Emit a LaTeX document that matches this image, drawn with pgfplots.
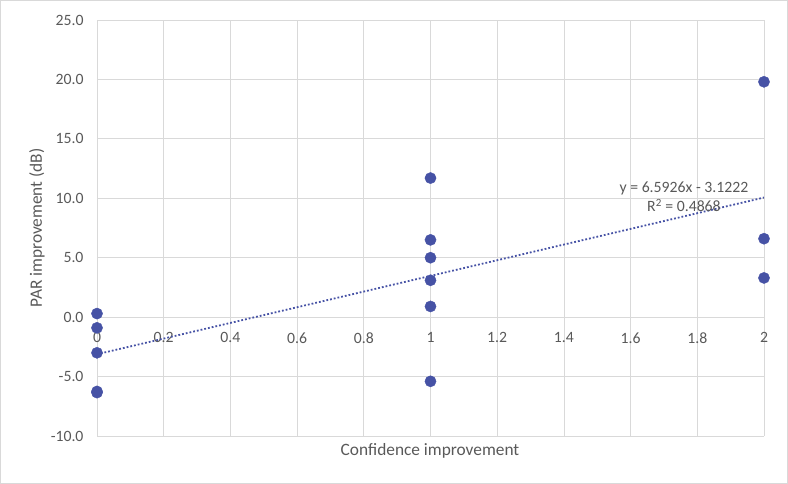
\documentclass[border=0pt]{standalone}
\usepackage{fontspec}
\setmainfont{Carlito}
\usepackage{pgfplots}
\pgfplotsset{compat=1.18}
\definecolor{ptblue}{HTML}{4652A5}
\definecolor{txtgray}{HTML}{595959}
\definecolor{gridgray}{HTML}{D9D9D9}
\begin{document}
\begin{tikzpicture}
\path[use as bounding box] (0,0) rectangle (788bp,484bp);
\draw[gridgray, line width=0.8bp] (0.5bp,0.5bp) rectangle (787.5bp,483.5bp);
\begin{axis}[
  at={(97bp,48bp)}, anchor=south west,
  scale only axis, width=667bp, height=416bp,
  xmin=0, xmax=2, ymin=-10, ymax=25,
  axis x line=middle, axis y line=left,
  axis line style={draw=gridgray, line width=0.8bp, -},
  hide obscured x ticks=false, hide obscured y ticks=false,
  xtick={0,0.2,0.4,0.6,0.8,1,1.2,1.4,1.6,1.8,2},
  xticklabels={0,0.2,0.4,0.6,0.8,1,1.2,1.4,1.6,1.8,2},
  ytick={-10,-5,0,5,10,15,20,25},
  yticklabels={-10.0,-5.0,0.0,5.0,10.0,15.0,20.0,25.0},
  major tick length=0,
  grid=major,
  grid style={draw=gridgray, line width=0.8bp},
  tick label style={font=\fontsize{15.8}{18}\selectfont, text=txtgray},
  xticklabel style={yshift=-12bp},
  yticklabel style={xshift=-10bp},
  clip=false,
]
\addplot[ptblue, line width=1.8bp, dash pattern=on 1.8bp off 2.0bp, line cap=butt] coordinates {(0,-3.1222) (2,10.063)};
\addplot[only marks, mark=*, mark size=5.6bp, ptblue, mark options={draw=ptblue, fill=ptblue}] coordinates {
  (0,0.3) (0,-0.9) (0,-3.0) (0,-6.25) (0,-6.35)
  (1,11.7) (1,6.5) (1,5.0) (1,3.1) (1,0.9) (1,-5.4)
  (2,19.8) (2,6.6) (2,3.3)
};
\node[align=center, text=txtgray, font=\fontsize{15.8}{19}\selectfont] at (axis cs:1.760,10.1) {y = 6.5926x - 3.1222\\R\textsuperscript{2} = 0.4868};
\end{axis}
\node[text=txtgray, font=\fontsize{17.4}{20}\selectfont] at (430bp,33bp) {Confidence improvement};
\node[text=txtgray, font=\fontsize{17.4}{20}\selectfont, rotate=90] at (37bp,256bp) {PAR improvement (dB)};
\end{tikzpicture}
\end{document}
